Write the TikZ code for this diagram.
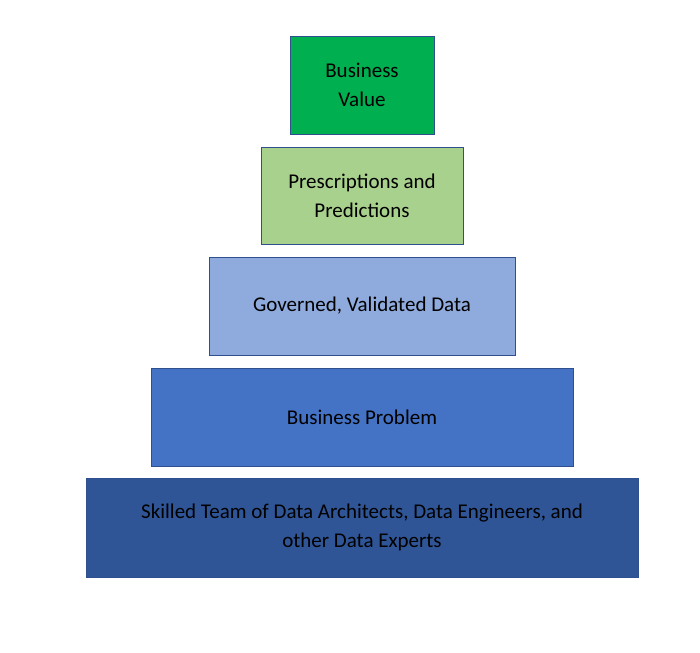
\documentclass[tikz,border=0pt]{standalone}
\usepackage{fontspec}
\setmainfont{Carlito}
\definecolor{c1}{HTML}{00B050}
\definecolor{c2}{HTML}{A9D18E}
\definecolor{c3}{HTML}{8FAADC}
\definecolor{c4}{HTML}{4472C4}
\definecolor{c5}{HTML}{2F5597}
\definecolor{edge}{HTML}{2F4F8F}
\begin{document}
\begin{tikzpicture}[x=1pt,y=-1pt,
  tier/.style={draw=edge,line width=0.9pt,align=center,font=\fontsize{21}{29}\selectfont,text=black}]
\useasboundingbox[fill=white] (0,0) rectangle (700,652);
\draw[tier,fill=c1] (290,36) rectangle (434,134) node[midway,tier,draw=none] (n1) {Business\\Value};
\draw[tier,fill=c2] (261,147) rectangle (463,244) node[midway,tier,draw=none] (n2) {Prescriptions and\\Predictions};
\draw[tier,fill=c3] (209,257) rectangle (515,355) node[midway,tier,draw=none] (n3) {Governed, Validated Data};
\draw[tier,fill=c4] (151,368) rectangle (573,466) node[midway,tier,draw=none] (n4) {Business Problem};
\draw[tier,fill=c5] (86,478) rectangle (638,577) node[midway,tier,draw=none] (n5) {Skilled Team of Data Architects, Data Engineers, and\\other Data Experts};
\end{tikzpicture}
\end{document}
